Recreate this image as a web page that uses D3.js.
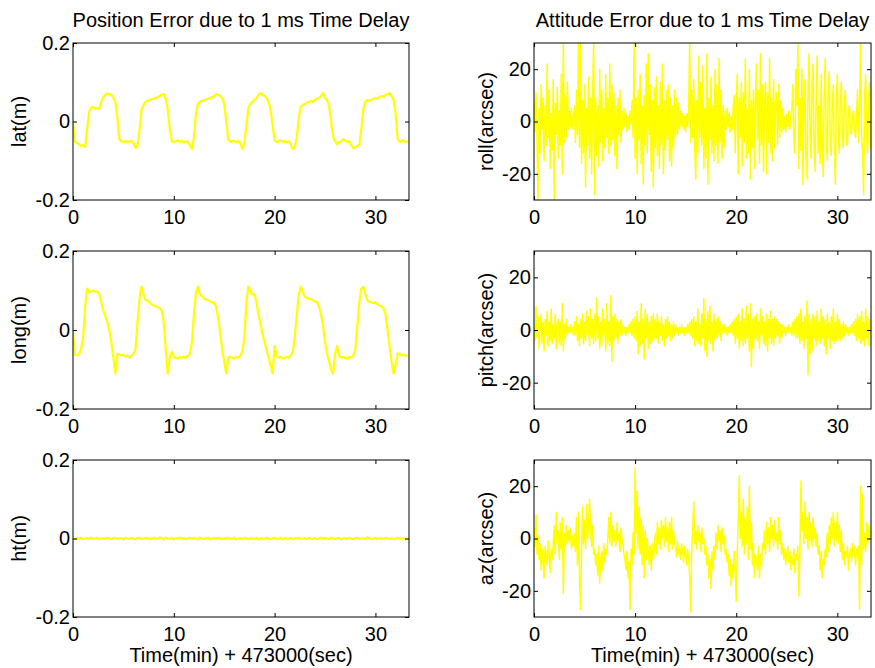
<!DOCTYPE html>
<html><head><meta charset="utf-8">
<script src="https://cdn.jsdelivr.net/npm/d3@7"></script>
<style>
body{margin:0;background:#fff}
svg text{font-family:"Liberation Sans",Arial,Helvetica,sans-serif;fill:#000}
</style>
</head><body>
<svg id="chart" width="875" height="668"></svg>
<script>
// ---------- data ----------
const posStepMin = 0.2;   // position errors sampled every 0.2 min
const attStepMin = 0.1;   // attitude errors sampled every 0.1 min
const xDomainMax = 33.33;
const xTicks = [0, 10, 20, 30];
const posYTicks = [-0.2, 0, 0.2];
const posYTickLabels = ["-0.2", "0", "0.2"];
const attYTicks = [-20, 0, 20];
const attYTickLabels = ["-20", "0", "20"];
const leftTitle = "Position Error due to 1 ms Time Delay";
const rightTitle = "Attitude Error due to 1 ms Time Delay";
const xLabel = "Time(min) + 473000(sec)";
const posLabels = ["lat(m)", "long(m)", "ht(m)"];
const attLabels = ["roll(arcsec)", "pitch(arcsec)", "az(arcsec)"];

const latErr = [
0.000,-0.052,-0.055,-0.058,-0.062,-0.060,-0.065,-0.020,0.025,0.035,
0.037,0.033,0.034,0.032,0.050,0.062,0.068,0.072,0.070,0.068,
0.060,0.050,0.010,-0.045,-0.050,-0.052,-0.050,-0.053,-0.050,-0.050,
-0.055,-0.068,-0.060,-0.020,0.030,0.042,0.050,0.053,0.055,0.057,
0.058,0.060,0.062,0.065,0.068,0.070,0.058,0.030,-0.020,-0.050,
-0.052,-0.050,-0.048,-0.052,-0.050,-0.053,-0.050,-0.052,-0.060,-0.070,
-0.040,0.020,0.045,0.050,0.052,0.055,0.056,0.058,0.060,0.062,
0.065,0.070,0.068,0.065,0.060,0.045,0.000,-0.045,-0.052,-0.050,
-0.050,-0.053,-0.050,-0.055,-0.070,-0.055,-0.010,0.035,0.045,0.050,
0.055,0.060,0.068,0.072,0.068,0.065,0.060,0.050,0.030,-0.010,
-0.048,-0.052,-0.050,-0.048,-0.052,-0.050,-0.053,-0.050,-0.060,-0.070,
-0.065,-0.040,0.010,0.038,0.042,0.045,0.048,0.050,0.052,0.050,
0.055,0.058,0.060,0.065,0.072,0.060,0.055,0.040,0.000,-0.040,
-0.050,-0.058,-0.052,-0.050,-0.045,-0.048,-0.052,-0.050,-0.060,-0.068,
-0.065,-0.062,-0.060,-0.020,0.030,0.050,0.055,0.053,0.055,0.058,
0.060,0.058,0.062,0.065,0.063,0.068,0.070,0.072,0.065,0.055,
0.020,-0.045,-0.052,-0.050,-0.048,-0.052,-0.050];

const longErr = [
0.000,-0.062,-0.065,-0.060,-0.050,-0.020,0.060,0.105,0.095,0.098,
0.100,0.097,0.098,0.090,0.070,0.050,0.035,0.020,0.000,-0.030,
-0.070,-0.110,-0.060,-0.062,-0.065,-0.063,-0.067,-0.065,-0.070,-0.065,
-0.060,-0.050,0.020,0.080,0.110,0.090,0.075,0.075,0.070,0.065,
0.062,0.060,0.058,0.055,0.050,0.020,-0.050,-0.110,-0.070,-0.055,
-0.068,-0.070,-0.072,-0.068,-0.070,-0.068,-0.070,-0.065,-0.060,-0.030,
0.040,0.095,0.110,0.090,0.085,0.080,0.078,0.075,0.072,0.070,
0.068,0.060,0.030,-0.010,-0.050,-0.080,-0.110,-0.070,-0.068,-0.070,
-0.072,-0.068,-0.070,-0.065,-0.055,-0.020,0.070,0.110,0.100,0.090,
0.090,0.070,0.040,0.015,-0.010,-0.030,-0.050,-0.070,-0.090,-0.110,
-0.040,-0.065,-0.070,-0.068,-0.072,-0.070,-0.068,-0.070,-0.065,-0.055,
-0.020,0.040,0.090,0.110,0.095,0.085,0.080,0.080,0.078,0.075,
0.072,0.070,0.060,0.040,0.010,-0.030,-0.060,-0.080,-0.100,-0.110,
-0.060,-0.040,-0.065,-0.070,-0.068,-0.070,-0.072,-0.068,-0.070,-0.065,
-0.050,0.010,0.070,0.105,0.110,0.090,0.075,0.072,0.070,0.068,
0.070,0.065,0.062,0.060,0.055,0.040,0.000,-0.040,-0.080,-0.110,
-0.090,-0.060,-0.060,-0.065,-0.062,-0.065,-0.065];

const htErr = [
0.000,-0.002,0.001,-0.001,0.002,-0.002,0.000,0.001,-0.001,0.002,
-0.001,0.000,0.002,-0.002,0.001,0.000,-0.001,0.002,0.000,-0.002,
0.001,0.002,-0.001,0.000,0.001,-0.002,0.002,0.000,-0.001,0.001,
0.000,-0.002,0.001,0.002,-0.001,0.000,0.002,-0.001,0.001,-0.002,
0.002,0.000,-0.001,0.003,0.001,-0.002,0.002,0.000,-0.001,0.001,
-0.002,0.001,0.000,0.002,-0.001,0.001,-0.002,0.000,0.002,-0.001,
0.001,0.000,-0.002,0.002,0.000,-0.001,0.001,0.002,-0.002,0.000,
0.001,-0.001,0.002,0.000,-0.002,0.001,-0.001,0.002,0.000,-0.001,
0.002,-0.002,0.000,0.001,-0.001,0.002,0.000,-0.002,0.001,0.000,
-0.001,0.002,-0.002,0.001,0.000,-0.001,0.002,0.000,-0.002,0.001,
0.002,-0.001,0.000,0.002,-0.002,0.001,0.000,-0.001,0.002,-0.002,
0.001,0.000,0.002,-0.001,0.000,0.001,-0.002,0.002,0.000,-0.001,
0.001,-0.002,0.000,0.002,-0.001,0.001,0.000,-0.002,0.002,0.000,
-0.001,0.001,0.002,-0.002,0.000,0.001,-0.001,0.002,0.000,-0.002,
0.001,0.002,-0.001,0.000,0.001,-0.002,0.003,0.001,-0.001,0.000,
0.002,-0.002,0.001,0.000,-0.001,0.002,0.000,-0.001,0.001,-0.002,
0.000,0.002,-0.001,0.001,0.000,-0.002,0.001];

const rollErr = [
8,-4,11,-7,-31,5,-12,14,-3,9,-15,6,-9,22,-6,12,-18,3,-11,16,
-31,7,-5,13,-14,4,-9,18,-20,31,-8,10,-6,15,-3,4,-2,5,-3,2,
6,-8,12,-5,31,-10,31,-16,8,-12,14,-25,5,-9,17,-14,9,-20,11,31,
-28,9,-13,6,-17,20,-8,12,-15,5,-10,18,-6,9,-12,22,-9,14,-7,11,
-13,6,-18,9,-5,12,-8,4,-3,5,-2,3,-4,2,-3,4,-1,8,-6,31,
-14,9,-20,12,-7,18,-16,6,-24,10,-9,22,-12,26,-5,14,-19,8,-25,13,
-10,17,-13,6,-18,15,-9,22,-20,8,-11,12,-7,14,-15,9,-17,6,-10,12,
-6,9,-5,7,-3,4,-2,3,-3,2,-4,3,-2,5,31,-8,12,-6,16,-10,
-22,8,-12,25,-6,15,-9,21,-18,5,-14,26,-24,9,-7,17,-12,6,-15,20,
-9,14,-16,24,-8,12,-14,6,-10,4,-3,5,-2,3,-4,2,-3,6,10,-12,
7,18,-20,9,-6,15,-17,11,-8,24,-14,5,-12,20,-22,8,-10,12,-18,9,
22,-7,12,-16,26,-9,14,-19,6,15,-20,11,-8,24,-12,9,-15,16,-10,7,
11,-9,14,-6,8,-4,5,-3,2,-4,3,-2,4,-3,2,5,14,-8,-12,20,
6,31,-18,9,-11,20,-24,7,16,-13,-22,11,26,-6,-14,15,22,-9,-19,8,
25,-12,6,-16,18,-8,-21,11,24,-6,-15,13,19,-9,-13,7,14,-11,-24,9,
18,-7,-12,10,15,-6,-10,8,12,-9,-9,5,6,-4,-5,3,4,-3,-6,2,
12,-8,6,31,-5,-12,-28,10,18,-7,-12,9,15,-10];

const pitchErr = [
2,-4,9,-3,5,-7,1,6,-5,3,-8,4,-2,7,-6,3,-4,8,-5,2,
-3,6,-7,2,4,-5,3,-6,10,-8,2,-3,4,-2,1,-1,2,-1,1,-2,
3,-2,5,-4,2,-6,4,-3,6,-5,3,-4,7,-2,5,-6,8,-3,4,-5,
6,-4,12,-3,5,-7,3,-6,8,-2,4,-8,10,-5,3,-6,13,-12,5,-4,
6,-3,4,-5,3,-2,4,-2,2,-1,1,-2,1,-1,2,-1,3,-2,4,-3,
5,-4,7,-9,3,-6,10,-5,4,-11,8,-3,6,-7,3,-5,5,-4,6,-3,
4,-3,6,-5,3,-2,5,-4,2,-6,4,-3,5,-2,3,-4,2,-3,3,-2,
2,-1,1,-2,1,-1,2,-1,1,-2,1,-1,2,-1,3,-2,4,-3,5,-6,
3,-4,8,-5,2,-6,6,-3,12,-8,4,-10,7,-4,9,-5,3,-8,6,-4,
4,-3,5,-2,3,-4,2,-1,2,-1,1,-2,1,-1,2,-1,3,-2,4,-5,
5,-3,6,-7,3,-4,8,-6,4,-5,9,-3,6,-8,10,-14,4,-7,5,-3,
6,-4,3,-7,8,-2,5,-5,3,-6,6,-8,4,-3,7,-5,4,-6,5,-3,
4,-2,3,-5,2,-3,2,-1,1,-2,1,-1,2,-1,1,-2,3,-2,4,-3,
5,-3,6,-5,8,-4,3,-7,5,-3,11,-17,6,-9,4,-8,6,-3,5,-6,
7,-4,3,-5,8,-3,5,-6,4,-9,6,-3,3,-7,5,-4,8,-5,3,-4,
6,-3,4,-4,2,-3,3,-2,2,-1,1,-2,1,-1,2,-1,3,-2,4,-4,
6,-3,5,-5,7,-4,3,-6,8,-3,5,-6,4,-2];

const azErr = [
4,-3,9,-6,1,-8,-2,-12,-4,-9,-15,-3,-7,-10,-1,-6,-13,-4,-8,-2,
5,-6,10,-2,3,-8,6,-4,8,-21,2,-3,5,-2,3,-1,4,-4,1,-3,
2,-5,8,-10,10,-15,-27,-6,12,-2,7,-4,13,0,6,15,3,-3,5,-6,
-4,-10,-6,-14,-3,-17,-8,-5,-12,-2,-9,-4,-6,0,8,-2,10,-3,5,-1,
3,-3,6,-1,2,-5,4,0,-2,-6,-8,-12,-5,-15,-9,-27,-4,-10,2,-6,
27,2,18,-4,12,-6,8,-10,5,-15,3,-8,0,-5,-10,-3,-12,-2,-8,-4,
2,-6,6,-2,4,-4,7,0,5,-3,8,-1,4,-5,6,-2,8,-4,3,-2,
-3,-7,-1,-6,-4,-8,-2,-5,-9,-3,-6,-10,-4,-8,-15,-28,-5,4,14,-2,
3,-4,5,-1,2,-5,4,-2,0,-6,-3,-10,-6,-15,-8,-19,-5,-12,-3,-8,
2,-4,5,-1,3,-5,4,-2,1,-6,-4,-9,-6,-14,-8,-18,-10,-15,-5,-12,
-24,-5,6,24,0,10,-3,15,-6,8,-2,12,-8,20,-4,6,-10,-2,-15,-6,
-8,-12,-3,-15,-6,-10,-2,-4,3,-6,6,-2,4,-5,8,0,5,-3,7,-1,
2,-4,8,-2,3,-6,-2,-8,-4,-10,-6,-3,-9,-5,-12,-7,-10,-4,-13,-6,
-8,-3,-22,-5,22,3,10,-2,14,0,8,-4,10,-1,6,-3,8,0,4,-3,
2,-6,-3,-12,-5,-15,-8,-10,-4,-7,2,-5,5,-2,8,0,10,-3,6,-1,
10,-2,5,-5,3,-8,-2,-10,-5,-7,-3,-12,-6,-4,-9,-2,-7,-3,-10,-4,
-6,-3,-27,20,-10,17,-4,2,-5,6,-2,5,0,3];

// ---------- layout ----------
const colX = [[73, 409], [534, 871]];
const rowY = [[43, 200], [251, 409], [460, 617]];
const FS = 20;

const svg = d3.select("#chart");

const panels = [
  {col:0,row:0,data:latErr,step:posStepMin,dom:[-0.2,0.2],ticks:posYTicks,labels:posYTickLabels,ylab:posLabels[0],w:2.2},
  {col:0,row:1,data:longErr,step:posStepMin,dom:[-0.2,0.2],ticks:posYTicks,labels:posYTickLabels,ylab:posLabels[1],w:2.2},
  {col:0,row:2,data:htErr,step:posStepMin,dom:[-0.2,0.2],ticks:posYTicks,labels:posYTickLabels,ylab:posLabels[2],w:2.2},
  {col:1,row:0,data:rollErr,step:attStepMin,dom:[-30,30],ticks:attYTicks,labels:attYTickLabels,ylab:attLabels[0],w:1.5},
  {col:1,row:1,data:pitchErr,step:attStepMin,dom:[-30,30],ticks:attYTicks,labels:attYTickLabels,ylab:attLabels[1],w:1.5},
  {col:1,row:2,data:azErr,step:attStepMin,dom:[-30,30],ticks:attYTicks,labels:attYTickLabels,ylab:attLabels[2],w:1.5}
];

panels.forEach((p, k) => {
  const [x0, x1] = colX[p.col];
  const [y0, y1] = rowY[p.row];
  const x = d3.scaleLinear().domain([0, xDomainMax]).range([x0, x1]);
  const y = d3.scaleLinear().domain(p.dom).range([y1, y0]);
  const g = svg.append("g");

  const cid = "clip" + k;
  svg.append("clipPath").attr("id", cid).append("rect")
    .attr("x", x0).attr("y", y0).attr("width", x1 - x0).attr("height", y1 - y0);

  const line = d3.line().x((d, i) => x(i * p.step)).y(d => y(d));
  g.append("path").datum(p.data)
    .attr("clip-path", `url(#${cid})`)
    .attr("fill", "none").attr("stroke", "#ffff00")
    .attr("stroke-width", p.w).attr("stroke-linejoin", "round")
    .attr("d", line);

  const fmt = (d) => p.labels[p.ticks.indexOf(d)];
  const ax = [
    g.append("g").attr("transform", `translate(0,${y1})`)
      .call(d3.axisBottom(x).tickValues(xTicks).tickSizeInner(-4).tickSizeOuter(0).tickPadding(10).tickFormat(d3.format("d"))),
    g.append("g").attr("transform", `translate(0,${y0})`)
      .call(d3.axisTop(x).tickValues(xTicks).tickSizeInner(-4).tickSizeOuter(0).tickFormat("")),
    g.append("g").attr("transform", `translate(${x0},0)`)
      .call(d3.axisLeft(y).tickValues(p.ticks).tickSizeInner(-4).tickSizeOuter(0).tickPadding(3).tickFormat(fmt)),
    g.append("g").attr("transform", `translate(${x1},0)`)
      .call(d3.axisRight(y).tickValues(p.ticks).tickSizeInner(-4).tickSizeOuter(0).tickFormat(""))
  ];
  ax.forEach(a => {
    a.select(".domain").remove();
    a.selectAll("line").attr("stroke", "#000");
    a.selectAll("text").attr("font-size", FS).attr("fill", "#000");
    a.attr("font-family", null).attr("font-size", null);
  });

  g.append("rect").attr("x", x0).attr("y", y0).attr("width", x1 - x0).attr("height", y1 - y0)
    .attr("fill", "none").attr("stroke", "#000").attr("stroke-width", 1);

  const lx = p.col === 0 ? 26 : 493;
  g.append("text").attr("transform", `translate(${lx},${(y0 + y1) / 2}) rotate(-90)`)
    .attr("text-anchor", "middle").attr("font-size", FS).text(p.ylab);
});

svg.append("text").attr("x", (colX[0][0] + colX[0][1]) / 2).attr("y", 27)
  .attr("text-anchor", "middle").attr("font-size", FS).text(leftTitle);
svg.append("text").attr("x", (colX[1][0] + colX[1][1]) / 2).attr("y", 27)
  .attr("text-anchor", "middle").attr("font-size", FS).text(rightTitle);
svg.append("text").attr("x", (colX[0][0] + colX[0][1]) / 2).attr("y", 662)
  .attr("text-anchor", "middle").attr("font-size", FS).text(xLabel);
svg.append("text").attr("x", (colX[1][0] + colX[1][1]) / 2).attr("y", 662)
  .attr("text-anchor", "middle").attr("font-size", FS).text(xLabel);
</script>
</body></html>
